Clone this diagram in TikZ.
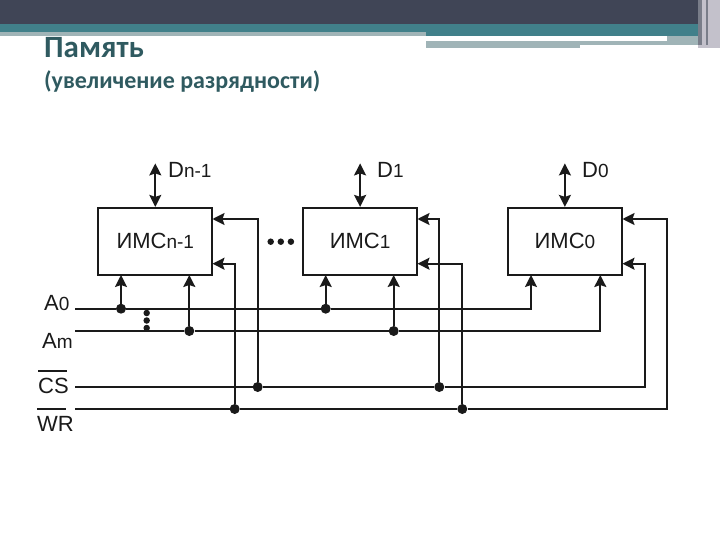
\documentclass[tikz,border=0pt]{standalone}
\usepackage{fontspec}
\setmainfont{Liberation Sans}
\newfontfamily\titlefont{Carlito}
\usetikzlibrary{positioning,arrows.meta}
\usepackage{xcolor}
\definecolor{bandDark}{HTML}{404556}
\definecolor{bandTeal}{HTML}{41808A}
\definecolor{bandGrey}{HTML}{A0B4B7}
\definecolor{bandPale}{HTML}{C3C1CB}
\definecolor{titleInk}{HTML}{2F5A60}
\definecolor{lineInk}{HTML}{1A1A1A}
\newcommand{\pinsub}[2]{{\fontsize{22}{24}\selectfont #1}{\fontsize{19}{22}\selectfont #2}}
\newcommand{\barred}[1]{\fontsize{22}{24}\selectfont\smash{\rlap{\raisebox{22pt}{\rule{29pt}{1.5pt}}}}#1}

\begin{document}
\begin{tikzpicture}[
  x=1pt, y=-1pt,
  node distance=89pt,
  block/.style={draw=lineInk, line width=1.8pt, align=center, minimum width=114pt, minimum height=67pt, text=lineInk},
  pin/.style={text=lineInk, inner sep=0pt},
  junction/.style={circle, fill=lineInk, inner sep=0pt, minimum size=10pt},
  tinydot/.style={circle, fill=lineInk, inner sep=0pt, minimum size=6.5pt},
  wire/.style={draw=lineInk, line width=1.8pt},
  arrow/.style={wire, -{Stealth[length=12pt, width=12pt, inset=2pt]}},
  biarrow/.style={wire, {Stealth[length=12pt, width=12pt, inset=2pt]}-{Stealth[length=12pt, width=12pt, inset=2pt]}}
]
\useasboundingbox (0,0) rectangle (720,540);

% header bands
\fill[bandDark] (0,0) rectangle (720,24);
\fill[bandTeal] (0,24) rectangle (698,36);
\fill[bandGrey] (0,32) rectangle (426,36);
\fill[bandGrey] (426,41) rectangle (667,45);
\fill[bandGrey] (426,45) rectangle (580,48);
\fill[bandGrey] (667,36) rectangle (698,45);
\fill[bandPale] (698,0) rectangle (720,48);
\fill[bandDark!70!white] (698,0) rectangle (702,45);
\fill[bandDark!70!white] (706,0) rectangle (708,45);

\node[anchor=base west, inner sep=0pt, text=titleInk, font=\titlefont\fontsize{31}{34}\selectfont\bfseries] (title) at (44,58) {Память};
\node[anchor=base west, inner sep=0pt, text=titleInk, font=\titlefont\fontsize{24}{28}\selectfont\bfseries] (subtitle) at (44,89) {(увеличение разрядности)};

\node[block] (imsn) at (155.3,241.3) {\pinsub{ИМС}{n-1}};
\node[block, right=of imsn] (imsa) {\pinsub{ИМС}{1}};
\node[block, right=of imsa] (imsz) {\pinsub{ИМС}{0}};

% data lines
\coordinate[above=43.5pt of imsn.north] (dntop);
\coordinate[above=43.5pt of imsa.north] (datop);
\coordinate[above=43.5pt of imsz.north] (dztop);
\draw[biarrow] (imsn.north) -- (dntop);
\draw[biarrow] (imsa.north) -- (datop);
\draw[biarrow] (imsz.north) -- (dztop);
\node[pin, anchor=west] (dn) at (168,170) {\pinsub{D}{n-1}};
\node[pin, anchor=west] (da) at (377,170) {\pinsub{D}{1}};
\node[pin, anchor=west] (dz) at (582,170) {\pinsub{D}{0}};

% bus labels
\node[pin, anchor=west] (a0) at (44,303) {\pinsub{A}{0}};
\node[pin, anchor=west] (am) at (42,341) {\pinsub{A}{m}};
\node[pin, anchor=west] (cs) at (38,386) {\barred{CS}};
\node[pin, anchor=west] (wr) at (37,424) {\barred{WR}};
\coordinate (a0in) at (75,308.7);
\coordinate (amin) at (75,331);
\coordinate (csin) at (75,387);
\coordinate (wrin) at (75,409);

% junctions
\node[junction] (a0n) at (121,308.7) {};
\node[junction] (amn) at (189.3,331) {};
\node[junction] (csn) at (257.7,387) {};
\node[junction] (wrn) at (234.7,409) {};
\node[junction] (a0a) at (325.7,308.7) {};
\node[junction] (ama) at (393.7,331) {};
\node[junction] (csa) at (439.3,387) {};
\node[junction] (wra) at (462.3,409) {};

% pins on the chips
\coordinate (pa0n) at (121,275);
\coordinate (pamn) at (189.3,275);
\coordinate (pcsn) at (212.5,219);
\coordinate (pwrn) at (212.5,263.7);
\coordinate (pa0a) at (325.7,275);
\coordinate (pama) at (393.7,275);
\coordinate (pcsa) at (417.5,219);
\coordinate (pwra) at (417.5,263.7);
\coordinate (pa0z) at (531,275);
\coordinate (pamz) at (600.3,275);
\coordinate (pcsz) at (622.5,219);
\coordinate (pwrz) at (622.5,263.7);

% buses
\draw[arrow] (a0in) -- (a0n) -- (a0a) -| (pa0z);
\draw[arrow] (amin) -- (amn) -- (ama) -| (pamz);
\draw[arrow] (csin) -- (csn) -- (csa) -| (644.7,263.7) -- (pwrz);
\draw[arrow] (wrin) -- (wrn) -- (wra) -| (667.3,219) -- (pcsz);

% branches
\draw[arrow] (a0n) -- (pa0n);
\draw[arrow] (amn) -- (pamn);
\draw[arrow] (a0a) -- (pa0a);
\draw[arrow] (ama) -- (pama);
\draw[arrow] (csn) |- (pcsn);
\draw[arrow] (wrn) |- (pwrn);
\draw[arrow] (csa) |- (pcsa);
\draw[arrow] (wra) |- (pwra);

% ellipsis dots
\node[tinydot] (hdota) at (270.7,241.7) {};
\node[tinydot, right=3.2pt of hdota] (hdotb) {};
\node[tinydot, right=3.2pt of hdotb] (hdotc) {};
\node[tinydot] (vdota) at (146.7,313) {};
\node[tinydot, below=0.6pt of vdota] (vdotb) {};
\node[tinydot, below=0.6pt of vdotb] (vdotc) {};
\end{tikzpicture}
\end{document}
